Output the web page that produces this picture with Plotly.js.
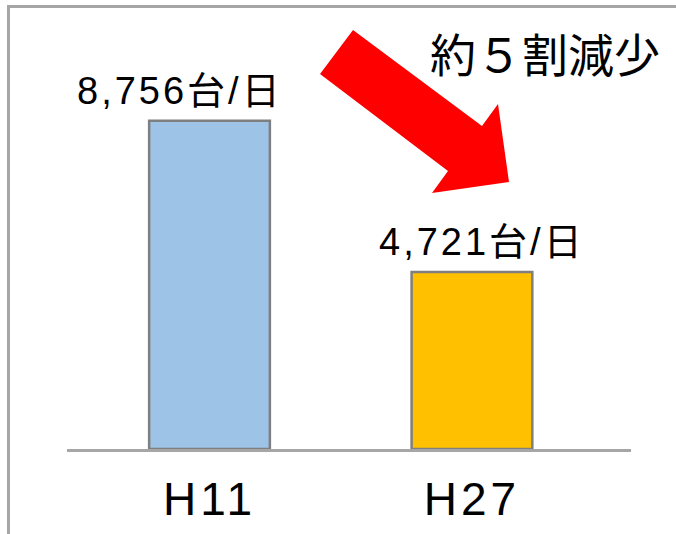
<!DOCTYPE html>
<html>
<head>
<meta charset="utf-8">
<script src="https://cdn.plot.ly/plotly-3.0.1.min.js"></script>
<style>
  html, body { margin: 0; padding: 0; background: #ffffff; }
  #chart { width: 676px; height: 534px; }
  .annotation-text.vlabel { letter-spacing: 3px; }
</style>
</head>
<body>
<div id="chart"></div>
<script>
// ---- data ----
const categories = ["H11", "H27"];
const values = [8756, 4721];
const valueLabels = ["8,756台/日", "4,721台/日"];
const barColors = ["#9DC3E6", "#FFC000"];
const noteText = "約５割減少";

// ---- layout geometry (pixels) ----
const W = 676, H = 534;
const L = 67, R = 45, T = 74, B = 85;
const pw = W - L - R, ph = H - T - B;
const px = v => (v - L) / pw;
const py = v => (H - B - v) / ph;

// block arrow outline in pixel space (decoration)
const arrowPts = [[353,30],[482,126],[498,104],[509,182],[432,193],[448,171],[320,74]];
const arrowPath = 'M ' + arrowPts.map(p => px(p[0]).toFixed(4) + ',' + py(p[1]).toFixed(4)).join(' L ') + ' Z';

const trace = {
  type: 'bar',
  x: categories,
  y: values,
  width: 0.46,
  marker: { color: barColors, line: { color: '#7F7F7F', width: 2.5 } },
  hoverinfo: 'skip'
};

const labelShift = [-30, 10];
const annotations = categories.map((c, i) => ({
  x: c, y: values[i], xref: 'x', yref: 'y',
  text: valueLabels[i], showarrow: false,
  xanchor: 'center', yanchor: 'bottom',
  xshift: labelShift[i], yshift: 7,
  font: { family: 'Liberation Sans, Noto Sans CJK JP, sans-serif', size: 38, color: '#000000' }
}));
annotations.push({
  x: px(545), y: py(52), xref: 'paper', yref: 'paper',
  text: noteText, showarrow: false, xanchor: 'center', yanchor: 'middle',
  font: { family: 'Noto Sans CJK JP, sans-serif', size: 46, color: '#000000' }
});

const layout = {
  width: W, height: H,
  margin: { l: L, r: R, t: T, b: B, pad: 0 },
  paper_bgcolor: '#ffffff', plot_bgcolor: '#ffffff',
  showlegend: false,
  xaxis: {
    type: 'category', range: [-0.543, 1.606],
    showline: true, linecolor: '#A6A6A6', linewidth: 2.5,
    showgrid: false, zeroline: false, ticks: '',
    tickfont: { family: 'Liberation Sans, sans-serif', size: 46, color: '#000000' },
    ticklabelstandoff: 8, fixedrange: true
  },
  yaxis: {
    range: [0, 10000], visible: false, showgrid: false, zeroline: false, fixedrange: true
  },
  annotations: annotations,
  shapes: [
    { type: 'path', xref: 'paper', yref: 'paper', path: arrowPath,
      fillcolor: '#FF0000', line: { width: 0 } },
    { type: 'path', xref: 'paper', yref: 'paper',
      path: `M ${px(8.5)},${py(540)} L ${px(8.5)},${py(6.5)} L ${px(680)},${py(6.5)}`,
      line: { color: '#A6A6A6', width: 3 } }
  ]
};

Plotly.newPlot('chart', [trace], layout, { displayModeBar: false, staticPlot: true }).then(() => {
  document.querySelectorAll('.annotation-text').forEach((t, i) => {
    if (i < 2) t.classList.add('vlabel');
  });
  document.querySelectorAll('.xtick text').forEach(t => { t.style.letterSpacing = '4px'; });
});
</script>
</body>
</html>
